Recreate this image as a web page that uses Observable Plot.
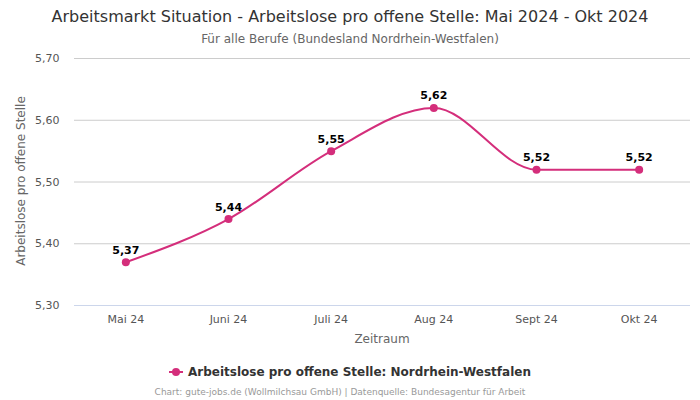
<!DOCTYPE html>
<html>
<head>
<meta charset="utf-8">
<script src="https://cdn.jsdelivr.net/npm/d3@7"></script>
<script src="https://cdn.jsdelivr.net/npm/@observablehq/plot@0.6"></script>
<style>
  body { margin: 0; width: 700px; height: 400px; background: #fff; font-family: "DejaVu Sans", sans-serif; overflow: hidden; position: relative; }
  #title { position: absolute; top: 7px; left: 0; width: 700px; text-align: center; font-size: 16px; color: #333; }
  #subtitle { position: absolute; top: 32px; left: 0; width: 700px; text-align: center; font-size: 12px; color: #666; }
  #chart { position: absolute; top: 50px; left: 0; }
  #xlabel { position: absolute; top: 332px; left: 74px; width: 616px; text-align: center; font-size: 12px; color: #666; }
  #ylabel { position: absolute; left: 21px; top: 181px; transform: translate(-50%, -50%) rotate(-90deg); white-space: nowrap; font-size: 12px; color: #666; }
  #legend { position: absolute; top: 365px; left: 0; width: 700px; text-align: center; font-size: 12px; font-weight: bold; color: #333; }
  #legend svg { vertical-align: middle; margin-right: 5px; position: relative; top: -1px; }
  #caption { position: absolute; top: 387px; left: -10px; width: 700px; text-align: center; font-size: 9px; color: #999; }
</style>
</head>
<body>
<div id="title">Arbeitsmarkt Situation - Arbeitslose pro offene Stelle: Mai 2024 - Okt 2024</div>
<div id="subtitle">Für alle Berufe (Bundesland Nordrhein-Westfalen)</div>
<div id="chart"></div>
<div id="xlabel">Zeitraum</div>
<div id="ylabel">Arbeitslose pro offene Stelle</div>
<div id="legend"><svg width="14" height="10"><line x1="0" y1="5" x2="14" y2="5" stroke="#d42e7b" stroke-width="2"/><circle cx="7" cy="5" r="4" fill="#d42e7b"/></svg>Arbeitslose pro offene Stelle: Nordrhein-Westfalen</div>
<div id="caption">Chart: gute-jobs.de (Wollmilchsau GmbH) | Datenquelle: Bundesagentur für Arbeit</div>
<script>
const months = ["Mai 24", "Juni 24", "Juli 24", "Aug 24", "Sept 24", "Okt 24"];
const values = [5.37, 5.44, 5.55, 5.62, 5.52, 5.52];
const yTicks = [5.3, 5.4, 5.5, 5.6, 5.7];

const color = "#d42e7b";
const fmt = v => v.toFixed(2).replace(".", ",");
const data = months.map((m, i) => ({ month: m, value: values[i] }));

const chart = Plot.plot({
  width: 700,
  height: 300,
  marginTop: 8,
  marginBottom: 45,
  marginLeft: 74,
  marginRight: 10,
  style: { fontFamily: "DejaVu Sans, sans-serif", fontSize: "11px", color: "#555", background: "#fff" },
  x: { type: "point", domain: months, padding: 0.5, round: false, label: null },
  y: { domain: [5.3, 5.7], label: null },
  marks: [
    Plot.gridY(yTicks, { stroke: "#cccccc", strokeOpacity: 1 }),
    Plot.ruleY([5.3], { stroke: "#ccd6eb", strokeWidth: 1 }),
    Plot.axisY(yTicks, { tickSize: 0, tickPadding: 15, tickFormat: fmt, fill: "#555", fontSize: 11, label: null }),
    Plot.axisX({ tickSize: 0, tickPadding: 10, fill: "#555", fontSize: 11, label: null }),
    Plot.line(data, { x: "month", y: "value", stroke: color, strokeWidth: 2, curve: "monotone-x" }),
    Plot.dot(data, { x: "month", y: "value", fill: color, r: 4 }),
    Plot.text(data, { x: "month", y: "value", text: d => fmt(d.value), dy: -12, fill: "#000", fontWeight: "bold", fontSize: 11 })
  ]
});
document.getElementById("chart").appendChild(chart);
</script>
</body>
</html>
